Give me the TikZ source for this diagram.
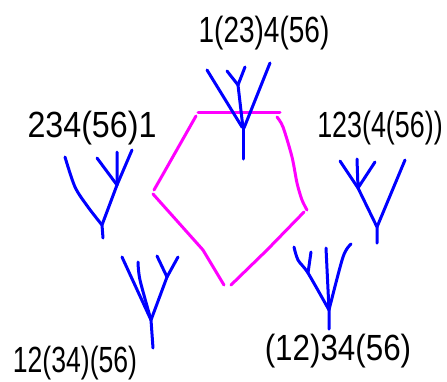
\documentclass[tikz,border=0pt]{standalone}
\usepackage{fontspec}
\setmainfont{Liberation Sans}
\definecolor{treeblue}{RGB}{0,0,255}
\definecolor{edgemag}{RGB}{255,0,255}
\begin{document}
\begin{tikzpicture}[x=1pt,y=-1pt,
  tree/.style={draw=treeblue,line width=3pt,line cap=round,line join=round},
  edge/.style={draw=edgemag,line width=3pt,line cap=round,line join=round},
  lab/.style={font=\fontsize{28}{28}\selectfont,inner sep=0pt,anchor=center,yscale=1.3}]
\useasboundingbox (0,0) rectangle (447,381);
% pentagon
\draw[edge] (198,112) -- (280,112);
\draw[edge] (196,116) -- (162,176) -- (154,190);
\draw[edge] (153,194) -- (203,250) -- (224,285);
\draw[edge] (231,285) -- (267,250) -- (304,212);
\draw[edge] plot[smooth] coordinates {(277,117) (283,127) (292,157) (297,183) (302,200) (307,210)};
% top tree 1(23)4(56)
\draw[tree] (207,70) -- (242,127);
\draw[tree] (227,71) -- (238,85) -- (245,67);
\draw[tree] (238,85) -- (243,128);
\draw[tree] (270,63) -- (244,128);
\draw[tree] (243,127) -- (243,159);
% left tree 234(56)1
\draw[tree] plot[smooth] coordinates {(65,157) (75,187) (88,207) (102,225)};
\draw[tree] (97,158) -- (117,185) -- (132,150);
\draw[tree] (117,152) -- (117,185) -- (102,225) -- (103,238);
% right tree 123(4(56))
\draw[tree] (340,161) -- (358,188) -- (377,227) -- (377,243);
\draw[tree] (357,159) -- (358,188) -- (375,162);
\draw[tree] (405,160) -- (377,227);
% bottom-left tree 12(34)(56)
\draw[tree] (122,257) -- (151,320);
\draw[tree] plot[smooth] coordinates {(138,262) (140,280) (151,320)};
\draw[tree] (157,256) -- (167,277) -- (178,257);
\draw[tree] (167,277) -- (151,320) -- (153,348);
% bottom-right tree (12)34(56)
\draw[tree] plot[smooth] coordinates {(294,247) (298,260) (308,273) (329,310)};
\draw[tree] (311,252) -- (308,273);
\draw[tree] (326,248) -- (329,310) -- (329,329);
\draw[tree] plot[smooth] coordinates {(351,244) (343,257) (329,310)};
% labels
\node[lab] (ltop) at (264,33) {1(23)4(56)};
\node[lab,xscale=1.15] (lleft) at (92,128) {234(56)1};
\node[lab,xscale=0.96] (lright) at (380,128) {123(4(56))};
\node[lab,xscale=0.95] (lbl) at (75,363) {12(34)(56)};
\node[lab,xscale=1.12] (lbr) at (338,351) {(12)34(56)};
\end{tikzpicture}
\end{document}
